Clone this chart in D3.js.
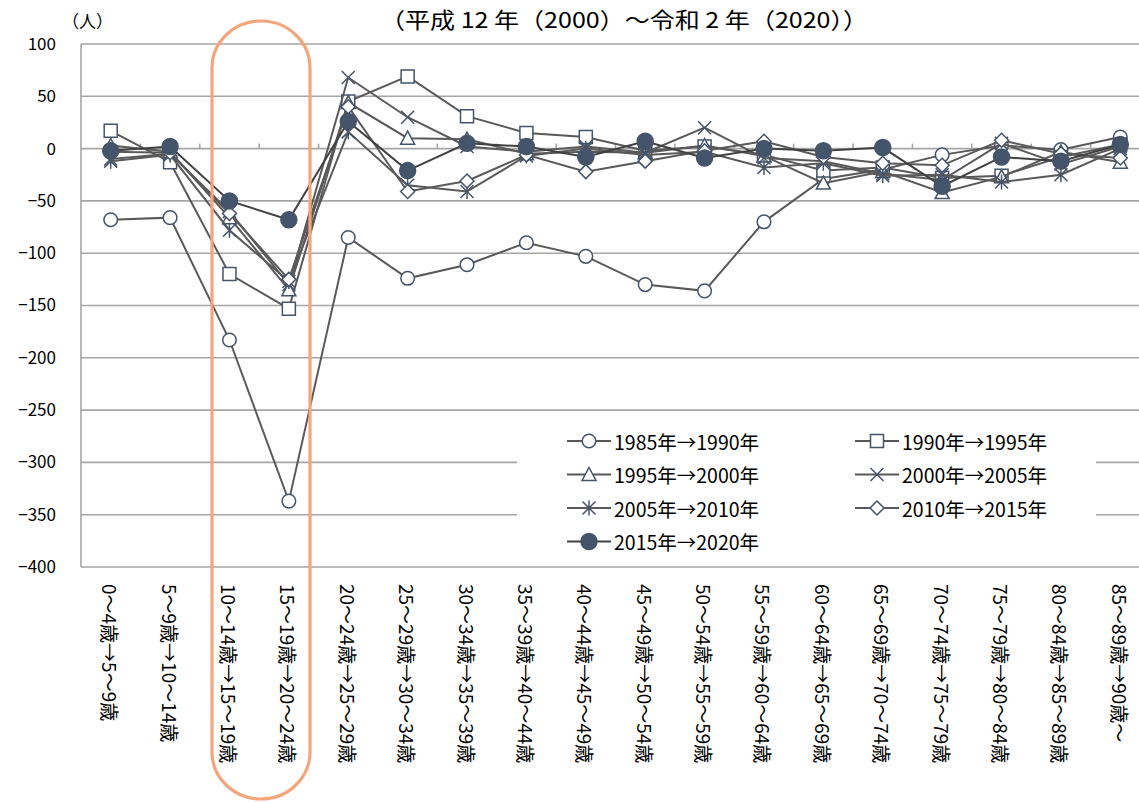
<!DOCTYPE html>
<html>
<head>
<meta charset="utf-8">
<script src="https://cdn.jsdelivr.net/npm/d3@7"></script>
<style>
  body { margin: 0; background: #fff; }
  svg { display: block; font-family: "Noto Sans CJK JP", "Noto Sans", sans-serif; }
</style>
</head>
<body>
<div id="chart"></div>
<script>
const categories = [
    '0～4歳→5～9歳', '5～9歳→10～14歳', '10～14歳→15～19歳', '15～19歳→20～24歳',
    '20～24歳→25～29歳', '25～29歳→30～34歳', '30～34歳→35～39歳', '35～39歳→40～44歳',
    '40～44歳→45～49歳', '45～49歳→50～54歳', '50～54歳→55～59歳', '55～59歳→60～64歳',
    '60～64歳→65～69歳', '65～69歳→70～74歳', '70～74歳→75～79歳', '75～79歳→80～84歳',
    '80～84歳→85～89歳', '85～89歳→90歳～'
];

const seriesNames = [
    '1985年→1990年', '1990年→1995年', '1995年→2000年', '2000年→2005年',
    '2005年→2010年', '2010年→2015年', '2015年→2020年'
];
const seriesMarkers = ['circle', 'square', 'triangle', 'cross', 'asterisk', 'diamond', 'dot'];

const s1985 = [-68, -66, -183, -337, -85, -124, -111, -90, -103, -130, -136, -70, -29, -20, -6, 3, -1, 11];
const s1990 = [17, -13, -120, -153, 45, 69, 31, 15, 11, -2, 2, -6, -21, -18, -28, -26, -8, 4];
const s1995 = [3, -3, -66, -135, 44, 10, 9, -5, -3, -4, 3, -7, -33, -22, -42, -27, -3, -13];
const s2000 = [-10, -5, -60, -130, 68, 30, 2, -3, 2, -4, 20, -9, -12, -24, -30, 5, -15, 2];
const s2005 = [-12, -6, -78, -127, 16, -35, -41, -7, 0, -6, -3, -18, -14, -26, -25, -32, -25, 0];
const s2010 = [-3, -4, -62, -125, 40, -41, -31, -6, -22, -12, -2, 7, -8, -14, -16, 8, -5, -9];
const s2015 = [-2, 2, -50, -68, 26, -21, 5, 2, -8, 7, -9, 0, -2, 1, -36, -8, -12, 4];
const seriesValues = [s1985, s1990, s1995, s2000, s2005, s2010, s2015];

const yTicks = [100, 50, 0, -50, -100, -150, -200, -250, -300, -350, -400];

const title = '（平成 12 年（2000）～令和 2 年（2020））';
const unitLabel = '（人）';

const W = 1139, H = 803;
const plot = { left: 81, right: 1150, top: 44, bottom: 567 };
const markColor = '#44546a';
const lineColor = '#595959';
const gridColor = '#a6a6a6';

const svg = d3.select('#chart').append('svg')
    .attr('width', W)
    .attr('height', H);

const x = d3.scaleBand()
    .domain(categories)
    .range([plot.left, plot.right]);

const y = d3.scaleLinear()
    .domain([-400, 100])
    .range([plot.bottom, plot.top]);

const cx = (c) => x(c) + x.bandwidth() / 2;

// gridlines
svg.append('g')
    .selectAll('line')
    .data(yTicks)
    .join('line')
    .attr('x1', plot.left)
    .attr('x2', plot.right)
    .attr('y1', (d) => y(d))
    .attr('y2', (d) => y(d))
    .attr('stroke', gridColor)
    .attr('stroke-width', 1.6);

svg.append('line')
    .attr('x1', plot.left).attr('x2', plot.left)
    .attr('y1', plot.top).attr('y2', plot.bottom)
    .attr('stroke', gridColor)
    .attr('stroke-width', 1.6);

// x axis ticks sit on the zero line
const xAxisG = svg.append('g')
    .attr('transform', `translate(0,${y(0)})`);
xAxisG.selectAll('.boundary')
    .data(categories.slice(1))
    .join('line')
    .attr('class', 'boundary')
    .attr('x1', (d) => x(d))
    .attr('x2', (d) => x(d))
    .attr('y1', 0)
    .attr('y2', -5)
    .attr('stroke', gridColor)
    .attr('stroke-width', 1.6);

// y axis labels
const yAxis = d3.axisLeft(y).tickValues(yTicks).tickSize(0).tickPadding(25);
const yAxisG = svg.append('g')
    .attr('transform', `translate(${plot.left},0)`)
    .call(yAxis);
yAxisG.select('.domain').remove();
yAxisG.selectAll('text')
    .attr('font-size', 17)
    .attr('font-family', '"Noto Sans CJK JP", sans-serif')
    .attr('fill', '#000');

// x labels, vertical
svg.append('g')
    .selectAll('text')
    .data(categories)
    .join('text')
    .attr('transform', (d) => `translate(${cx(d)},584) rotate(90)`)
    .attr('dominant-baseline', 'central')
    .attr('font-size', 19)
    .attr('fill', '#000')
    .text((d) => d);

function markerPath(type) {
    const s = 6.5;
    switch (type) {
    case 'square':
        return `M${-s},${-s}H${s}V${s}H${-s}Z`;
    case 'triangle':
        return `M0,${-s - 0.5}L${s + 0.5},${s - 0.5}L${-s - 0.5},${s - 0.5}Z`;
    case 'diamond':
        return `M0,${-s - 0.5}L${s + 0.5},0L0,${s + 0.5}L${-s - 0.5},0Z`;
    case 'cross':
        return `M${-s},${-s}L${s},${s}M${s},${-s}L${-s},${s}`;
    case 'asterisk':
        return `M${-s},${-s}L${s},${s}M${s},${-s}L${-s},${s}M0,${-s - 1}V${s + 1}`;
    default:
        return null;
    }
}

function drawMarker(g, type) {
    if (type === 'circle' || type === 'dot') {
        g.append('circle')
            .attr('r', type === 'dot' ? 8 : 6.8)
            .attr('fill', type === 'dot' ? markColor : '#fff')
            .attr('stroke', markColor)
            .attr('stroke-width', 1.5);
    } else {
        g.append('path')
            .attr('d', markerPath(type))
            .attr('fill', (type === 'cross' || type === 'asterisk') ? 'none' : '#fff')
            .attr('stroke', markColor)
            .attr('stroke-width', 1.5);
    }
}

const line = d3.line()
    .x((d, i) => cx(categories[i]))
    .y((d) => y(d));

const seriesG = svg.append('g');
seriesValues.forEach((vals, si) => {
    const g = seriesG.append('g');
    g.append('path')
        .datum(vals)
        .attr('d', line)
        .attr('fill', 'none')
        .attr('stroke', si === 6 ? '#404040' : lineColor)
        .attr('stroke-width', 2);
    g.selectAll('g.m')
        .data(vals)
        .join('g')
        .attr('class', 'm')
        .attr('transform', (d, i) => `translate(${cx(categories[i])},${y(d)})`)
        .each(function () { drawMarker(d3.select(this), seriesMarkers[si]); });
});

// legend
const legend = svg.append('g');
legend.append('rect')
    .attr('x', 517).attr('y', 421)
    .attr('width', 579).attr('height', 136)
    .attr('fill', '#fff');

const legendItems = legend.selectAll('g.item')
    .data(seriesNames)
    .join('g')
    .attr('class', 'item')
    .attr('transform', (d, i) => `translate(${i % 2 ? 855 : 567},${441 + Math.floor(i / 2) * 33.5})`);

legendItems.append('line')
    .attr('x1', 0).attr('x2', 44)
    .attr('stroke', (d, i) => i === 6 ? '#404040' : lineColor)
    .attr('stroke-width', 2);
legendItems.append('g')
    .attr('transform', 'translate(22,0)')
    .each(function (d, i) { drawMarker(d3.select(this), seriesMarkers[i]); });
legendItems.append('text')
    .attr('x', 47)
    .attr('dominant-baseline', 'central')
    .attr('font-size', 19.5)
    .attr('fill', '#000')
    .text((d) => d);

// title and unit
svg.append('text')
    .attr('x', 380)
    .attr('y', 18)
    .attr('dominant-baseline', 'central')
    .attr('font-size', 22)
    .attr('textLength', 488)
    .attr('lengthAdjust', 'spacingAndGlyphs')
    .attr('fill', '#000')
    .text(title);

svg.append('text')
    .attr('x', 62)
    .attr('y', 20)
    .attr('dominant-baseline', 'central')
    .attr('font-size', 17)
    .attr('fill', '#000')
    .text(unitLabel);

// highlight around the 10-14 and 15-19 columns
svg.append('rect')
    .attr('x', 212).attr('y', 21)
    .attr('width', 98).attr('height', 778)
    .attr('rx', 49).attr('ry', 47)
    .attr('fill', 'none')
    .attr('stroke', '#f4a57c')
    .attr('stroke-width', 3.2);
</script>
</body>
</html>
